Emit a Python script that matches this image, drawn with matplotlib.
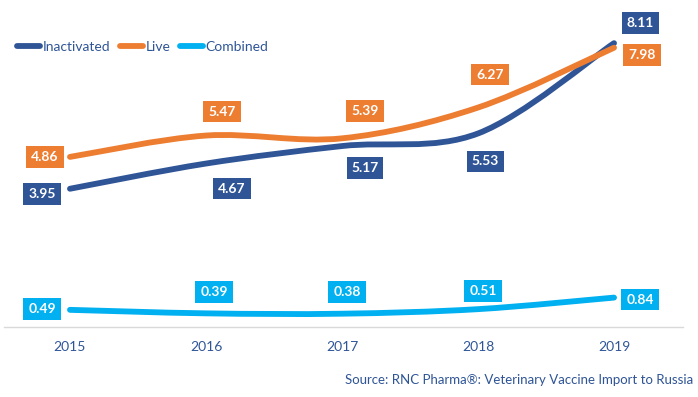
import matplotlib

matplotlib.use("Agg")
import matplotlib.pyplot as plt
from matplotlib.path import Path
from matplotlib.patches import PathPatch
from matplotlib.lines import Line2D

plt.rcParams["font.family"] = ["Lato", "DejaVu Sans"]

years = ["2015", "2016", "2017", "2018", "2019"]
inactivated = [3.95, 4.67, 5.17, 5.53, 8.11]
live = [4.86, 5.47, 5.39, 6.27, 7.98]
combined = [0.49, 0.39, 0.38, 0.51, 0.84]

series_names = ["Inactivated", "Live", "Combined"]
series_colors = ["#2F5597", "#ED7D31", "#00B0F0"]

# label offsets from the point, in pixels (x right, y up)
label_offsets = [
    [(-28, -5), (26, -25), (23, -22), (7, -28), (26, 20)],
    [(-25, 0), (16, 24), (23, 27), (12, 33), (28, -7)],
    [(-28, 1), (8, 21), (5, 22), (5, 18), (26, -2)],
]

TEXT_COLOR = "#2F5597"


def smooth_path(xs, ys):
    """Excel-like smoothed line as cubic bezier segments (catmull-rom control points)."""
    n = len(xs)
    verts = [(xs[0], ys[0])]
    codes = [Path.MOVETO]
    for i in range(n - 1):
        x0, y0 = (xs[i - 1], ys[i - 1]) if i > 0 else (xs[i], ys[i])
        x1, y1 = xs[i], ys[i]
        x2, y2 = xs[i + 1], ys[i + 1]
        x3, y3 = (xs[i + 2], ys[i + 2]) if i + 2 < n else (x2, y2)
        c1 = (x1 + (x2 - x0) / 6, y1 + (y2 - y0) / 6)
        c2 = (x2 - (x3 - x1) / 6, y2 - (y3 - y1) / 6)
        verts += [c1, c2, (x2, y2)]
        codes += [Path.CURVE4] * 3
    return Path(verts, codes)


fig = plt.figure(figsize=(6.98, 3.97), dpi=100)
ax = fig.add_axes([4 / 698, (397 - 327) / 397, 679 / 698, 315 / 397])
ax.set_xlim(-0.485, 4.507)
ax.set_ylim(0, 9)

xs = list(range(len(years)))
for values, color, offsets in zip([inactivated, live, combined], series_colors, label_offsets):
    patch = PathPatch(smooth_path(xs, values), facecolor="none", edgecolor=color,
                      lw=4.2, capstyle="round", joinstyle="round", zorder=3)
    ax.add_patch(patch)
    for x, v, (dx, dy) in zip(xs, values, offsets):
        ax.annotate(f"{v:.2f}", (x, v), xytext=(dx, dy), textcoords="offset pixels",
                    ha="center", va="center", color="white", fontsize=10, fontweight="bold",
                    bbox=dict(boxstyle="square,pad=0.35", fc=color, ec="none"), zorder=5)

for side in ["top", "right", "left"]:
    ax.spines[side].set_visible(False)
ax.spines["bottom"].set_color("#D9D9D9")
ax.spines["bottom"].set_linewidth(1)
ax.set_yticks([])
ax.set_xticks(xs)
ax.set_xticklabels(years, color=TEXT_COLOR, fontsize=10)
ax.tick_params(axis="x", length=0, pad=10)

handles = [Line2D([], [], color=c, lw=4.2, solid_capstyle="round") for c in series_colors]
leg = fig.legend(handles, series_names, loc="center left", bbox_to_anchor=(17 / 698, 1 - 47 / 397),
                 ncol=3, frameon=False, handlelength=1.67, handletextpad=0.2, columnspacing=0.65,
                 fontsize=10, borderaxespad=0, borderpad=0)
for t in leg.get_texts():
    t.set_color(TEXT_COLOR)

fig.text(693 / 698, 1 - 380 / 397, "Source: RNC Pharma®: Veterinary Vaccine Import to Russia",
         ha="right", va="center", color=TEXT_COLOR, fontsize=9.5)

fig.savefig("out.png", dpi=100)
